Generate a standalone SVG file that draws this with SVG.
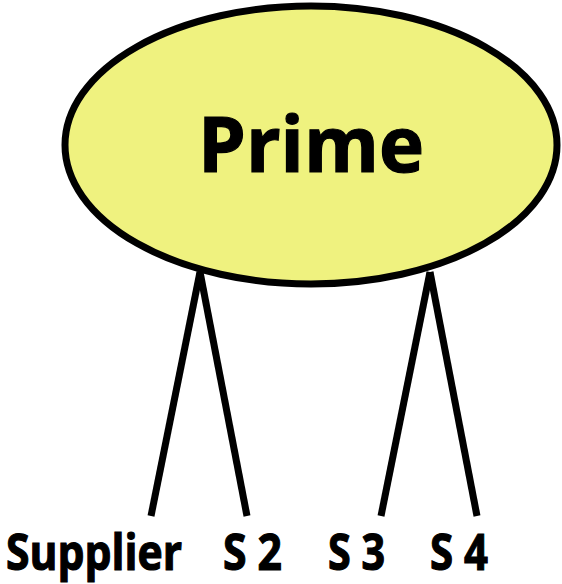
<svg xmlns="http://www.w3.org/2000/svg" width="562" height="584" viewBox="0 0 562 584">
  <style>
    .node-shape { fill: #eff27f; stroke: #000; stroke-width: 7; }
    .edge { stroke: #000; stroke-width: 7; fill: none; stroke-linecap: butt; }
    .label { font-family: "Open Sans", "Liberation Sans", Arial, sans-serif; font-weight: bold; fill: #000; stroke: #000; stroke-width: 1.2; }
    .leaf { font-size: 51px; }
  </style>
  <rect width="562" height="584" fill="#fff"/>
  <g id="connectors">
    <line class="edge" x1="200" y1="272" x2="151" y2="516"/>
    <line class="edge" x1="200" y1="272" x2="247" y2="516"/>
    <line class="edge" x1="430" y1="272" x2="381" y2="516"/>
    <line class="edge" x1="430" y1="272" x2="477" y2="516"/>
  </g>
  <g id="prime">
    <ellipse class="node-shape" cx="311" cy="145" rx="246" ry="139"/>
    <text class="label" x="311" y="172" font-size="77" text-anchor="middle" textLength="226" lengthAdjust="spacingAndGlyphs">Prime</text>
  </g>
  <g id="supplier">
    <text class="label leaf" x="6" y="570" textLength="176" lengthAdjust="spacingAndGlyphs">Supplier</text>
  </g>
  <g id="s2">
    <text class="label leaf" x="223" y="570" textLength="59" lengthAdjust="spacingAndGlyphs">S 2</text>
  </g>
  <g id="s3">
    <text class="label leaf" x="328" y="570" textLength="57" lengthAdjust="spacingAndGlyphs">S 3</text>
  </g>
  <g id="s4">
    <text class="label leaf" x="430" y="570" textLength="58" lengthAdjust="spacingAndGlyphs">S 4</text>
  </g>
</svg>
